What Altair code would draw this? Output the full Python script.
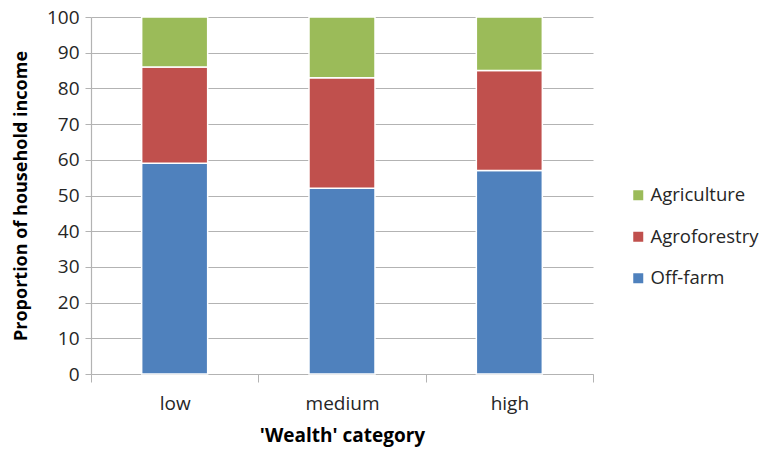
import altair as alt
import pandas as pd

categories = ["low", "medium", "high"]
sources = ["Off-farm", "Agroforestry", "Agriculture"]
off_farm = [59, 52, 57]
agroforestry = [27, 31, 28]
agriculture = [14, 17, 15]

rows = []
for i, cat in enumerate(categories):
    for k, (src, vals) in enumerate(zip(sources, [off_farm, agroforestry, agriculture])):
        rows.append({"category": cat, "source": src, "value": vals[i], "stack": k})
df = pd.DataFrame(rows)

FONT = "Open Sans"
GRID = "#b3b3b3"

chart = (
    alt.Chart(df)
    .mark_bar(size=66, stroke="white", strokeWidth=1.5)
    .encode(
        x=alt.X(
            "category:N",
            sort=categories,
            scale=alt.Scale(paddingInner=0, paddingOuter=0),
            axis=alt.Axis(
                title="'Wealth' category",
                labelAngle=0,
                tickBand="extent",
                labelPadding=12,
                tickSize=8,
                titlePadding=13,
                titleFontSize=19,
            ),
        ),
        y=alt.Y(
            "value:Q",
            stack="zero",
            scale=alt.Scale(domain=[0, 100], nice=False),
            axis=alt.Axis(
                title="Proportion  of household income",
                values=list(range(0, 101, 10)),
                tickSize=6,
                labelPadding=6,
                titlePadding=16,
                titleFontSize=18,
            ),
        ),
        color=alt.Color(
            "source:N",
            scale=alt.Scale(
                domain=["Agriculture", "Agroforestry", "Off-farm"],
                range=["#9BBB59", "#C0504D", "#4F81BD"],
            ),
            legend=alt.Legend(
                title=None,
                orient="none",
                legendX=538,
                legendY=169,
                symbolType="square",
                symbolSize=100,
                symbolStrokeWidth=0,
                labelFontSize=18.5,
                labelFont=FONT,
                labelColor="#262626",
                rowPadding=22.5,
                labelOffset=3,
            ),
        ),
        order=alt.Order("stack:Q"),
    )
    .properties(
        width=502,
        height=357,
        padding={"left": 91, "top": 17, "right": 172, "bottom": 76},
        autosize=alt.AutoSizeParams(type="none"),
    )
    .configure_view(stroke=None)
    .configure_axis(
        labelFont=FONT,
        titleFont=FONT,
        labelFontSize=19,
        titleFontSize=17,
        labelColor="#262626",
        titleColor="#000000",
        titleFontWeight="bold",
        domainColor=GRID,
        tickColor=GRID,
        gridColor=GRID,
        domainWidth=1.2,
        gridWidth=1.2,
    )
    .configure_axisX(grid=False)
)

chart.save("out.html", embed_options={"renderer": "svg", "actions": False})
